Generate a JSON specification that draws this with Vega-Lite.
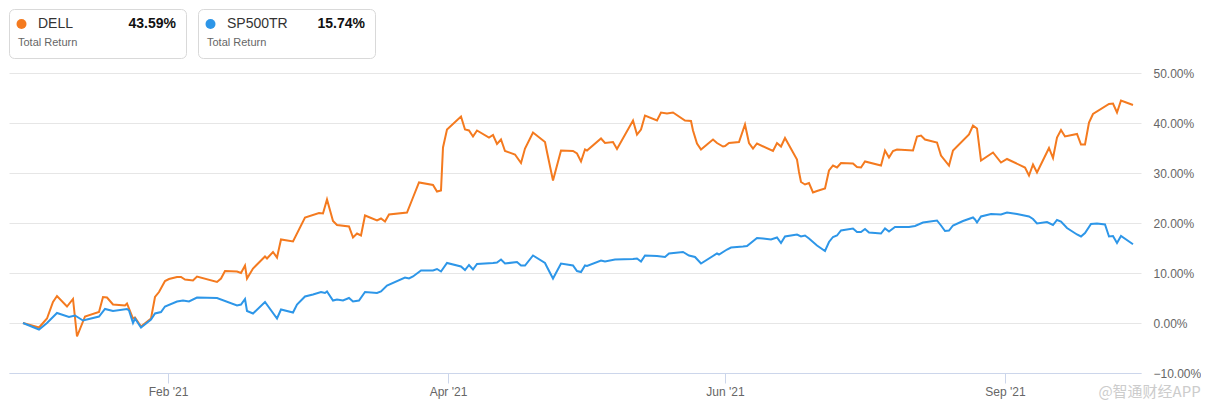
{
  "$schema": "https://vega.github.io/schema/vega-lite/v6.json",
  "padding": {"left": 8, "top": 8, "right": 0, "bottom": 0},
  "background": "white",
  "config": {"font": "Liberation Sans", "view": {"stroke": null}},
  "datasets": {
    "cards": [{"s": "DELL", "v": "43.59%"}, {"s": "SP500TR", "v": "15.74%"}],
    "lines": [
      {"s":"DELL","i":0,"r":0},{"s":"DELL","i":8,"r":-0.9},{"s":"DELL","i":12,"r":0.9},{"s":"DELL","i":15,"r":4.2},{"s":"DELL","i":17,"r":5.4},{"s":"DELL","i":22,"r":3.3},{"s":"DELL","i":25,"r":4.8},{"s":"DELL","i":27,"r":-2.7},{"s":"DELL","i":31,"r":1.3},{"s":"DELL","i":38,"r":2.2},{"s":"DELL","i":40,"r":5.2},{"s":"DELL","i":42,"r":5.1},{"s":"DELL","i":45,"r":3.7},{"s":"DELL","i":51,"r":3.5},{"s":"DELL","i":52,"r":3.9},{"s":"DELL","i":55,"r":0.9},{"s":"DELL","i":56,"r":1.1},{"s":"DELL","i":59,"r":-0.7},{"s":"DELL","i":64,"r":0.9},{"s":"DELL","i":66,"r":5.2},{"s":"DELL","i":68,"r":6.2},{"s":"DELL","i":71,"r":8.4},{"s":"DELL","i":73,"r":8.8},{"s":"DELL","i":77,"r":9.2},{"s":"DELL","i":79,"r":9.2},{"s":"DELL","i":81,"r":8.7},{"s":"DELL","i":85,"r":8.5},{"s":"DELL","i":87,"r":9.3},{"s":"DELL","i":97,"r":8.2},{"s":"DELL","i":99,"r":8.9},{"s":"DELL","i":101,"r":10.4},{"s":"DELL","i":107,"r":10.3},{"s":"DELL","i":109,"r":10.0},{"s":"DELL","i":111,"r":11.5},{"s":"DELL","i":112,"r":8.9},{"s":"DELL","i":115,"r":10.9},{"s":"DELL","i":121,"r":13.3},{"s":"DELL","i":122,"r":12.9},{"s":"DELL","i":125,"r":14.2},{"s":"DELL","i":127,"r":13.1},{"s":"DELL","i":129,"r":16.7},{"s":"DELL","i":135,"r":16.3},{"s":"DELL","i":141,"r":21.1},{"s":"DELL","i":148,"r":22.0},{"s":"DELL","i":150,"r":21.9},{"s":"DELL","i":152,"r":24.7},{"s":"DELL","i":155,"r":20.4},{"s":"DELL","i":157,"r":19.6},{"s":"DELL","i":163,"r":19.3},{"s":"DELL","i":165,"r":17.1},{"s":"DELL","i":167,"r":17.9},{"s":"DELL","i":169,"r":17.5},{"s":"DELL","i":171,"r":21.5},{"s":"DELL","i":177,"r":20.5},{"s":"DELL","i":179,"r":20.9},{"s":"DELL","i":181,"r":20.3},{"s":"DELL","i":183,"r":21.7},{"s":"DELL","i":192,"r":22.1},{"s":"DELL","i":195,"r":25.1},{"s":"DELL","i":198,"r":28.1},{"s":"DELL","i":205,"r":27.6},{"s":"DELL","i":207,"r":26.3},{"s":"DELL","i":209,"r":26.5},{"s":"DELL","i":210,"r":35.1},{"s":"DELL","i":212,"r":38.7},{"s":"DELL","i":219,"r":41.3},{"s":"DELL","i":221,"r":38.7},{"s":"DELL","i":223,"r":38.5},{"s":"DELL","i":225,"r":37.3},{"s":"DELL","i":227,"r":38.5},{"s":"DELL","i":233,"r":37.1},{"s":"DELL","i":235,"r":37.6},{"s":"DELL","i":237,"r":35.8},{"s":"DELL","i":239,"r":36.7},{"s":"DELL","i":241,"r":34.4},{"s":"DELL","i":246,"r":33.7},{"s":"DELL","i":249,"r":32.0},{"s":"DELL","i":251,"r":34.9},{"s":"DELL","i":255,"r":38.1},{"s":"DELL","i":261,"r":36.2},{"s":"DELL","i":262,"r":34.2},{"s":"DELL","i":265,"r":28.5},{"s":"DELL","i":269,"r":34.5},{"s":"DELL","i":275,"r":34.4},{"s":"DELL","i":277,"r":33.9},{"s":"DELL","i":279,"r":32.3},{"s":"DELL","i":281,"r":34.7},{"s":"DELL","i":282,"r":34.5},{"s":"DELL","i":289,"r":36.9},{"s":"DELL","i":291,"r":36.0},{"s":"DELL","i":295,"r":36.2},{"s":"DELL","i":297,"r":34.8},{"s":"DELL","i":305,"r":40.5},{"s":"DELL","i":307,"r":37.7},{"s":"DELL","i":309,"r":38.7},{"s":"DELL","i":311,"r":41.5},{"s":"DELL","i":317,"r":40.5},{"s":"DELL","i":319,"r":42.1},{"s":"DELL","i":322,"r":41.9},{"s":"DELL","i":325,"r":42.1},{"s":"DELL","i":331,"r":40.5},{"s":"DELL","i":334,"r":40.4},{"s":"DELL","i":335,"r":38.5},{"s":"DELL","i":337,"r":35.9},{"s":"DELL","i":339,"r":34.7},{"s":"DELL","i":345,"r":36.7},{"s":"DELL","i":347,"r":36.0},{"s":"DELL","i":350,"r":35.3},{"s":"DELL","i":351,"r":35.4},{"s":"DELL","i":353,"r":36.0},{"s":"DELL","i":358,"r":36.2},{"s":"DELL","i":361,"r":39.7},{"s":"DELL","i":363,"r":36.0},{"s":"DELL","i":365,"r":34.9},{"s":"DELL","i":367,"r":35.9},{"s":"DELL","i":375,"r":34.4},{"s":"DELL","i":377,"r":36.0},{"s":"DELL","i":379,"r":35.3},{"s":"DELL","i":381,"r":37.0},{"s":"DELL","i":387,"r":32.7},{"s":"DELL","i":388,"r":30.2},{"s":"DELL","i":389,"r":28.2},{"s":"DELL","i":391,"r":27.7},{"s":"DELL","i":393,"r":28.0},{"s":"DELL","i":395,"r":26.1},{"s":"DELL","i":397,"r":26.4},{"s":"DELL","i":401,"r":26.9},{"s":"DELL","i":403,"r":30.5},{"s":"DELL","i":405,"r":31.5},{"s":"DELL","i":407,"r":31.1},{"s":"DELL","i":409,"r":32.0},{"s":"DELL","i":415,"r":31.9},{"s":"DELL","i":417,"r":31.2},{"s":"DELL","i":419,"r":31.1},{"s":"DELL","i":421,"r":32.3},{"s":"DELL","i":429,"r":31.5},{"s":"DELL","i":431,"r":34.5},{"s":"DELL","i":433,"r":33.1},{"s":"DELL","i":435,"r":34.4},{"s":"DELL","i":437,"r":34.7},{"s":"DELL","i":445,"r":34.5},{"s":"DELL","i":447,"r":37.3},{"s":"DELL","i":449,"r":37.5},{"s":"DELL","i":451,"r":36.7},{"s":"DELL","i":457,"r":36.1},{"s":"DELL","i":459,"r":33.5},{"s":"DELL","i":463,"r":31.5},{"s":"DELL","i":465,"r":34.5},{"s":"DELL","i":473,"r":37.7},{"s":"DELL","i":475,"r":39.5},{"s":"DELL","i":477,"r":38.9},{"s":"DELL","i":479,"r":32.5},{"s":"DELL","i":485,"r":34.1},{"s":"DELL","i":489,"r":32.1},{"s":"DELL","i":492,"r":32.8},{"s":"DELL","i":501,"r":31.1},{"s":"DELL","i":503,"r":29.5},{"s":"DELL","i":505,"r":31.7},{"s":"DELL","i":507,"r":30.1},{"s":"DELL","i":513,"r":35.0},{"s":"DELL","i":515,"r":33.0},{"s":"DELL","i":517,"r":37.1},{"s":"DELL","i":519,"r":38.6},{"s":"DELL","i":521,"r":37.3},{"s":"DELL","i":527,"r":37.8},{"s":"DELL","i":529,"r":35.7},{"s":"DELL","i":531,"r":35.7},{"s":"DELL","i":533,"r":40.1},{"s":"DELL","i":535,"r":41.8},{"s":"DELL","i":543,"r":43.8},{"s":"DELL","i":545,"r":43.9},{"s":"DELL","i":547,"r":42.1},{"s":"DELL","i":549,"r":44.5},{"s":"DELL","i":555,"r":43.59},
      {"s":"SP500TR","i":0,"r":0},{"s":"SP500TR","i":8,"r":-1.3},{"s":"SP500TR","i":12,"r":0},{"s":"SP500TR","i":17,"r":2.0},{"s":"SP500TR","i":23,"r":1.2},{"s":"SP500TR","i":26,"r":1.5},{"s":"SP500TR","i":30,"r":0.5},{"s":"SP500TR","i":38,"r":1.3},{"s":"SP500TR","i":41,"r":2.8},{"s":"SP500TR","i":45,"r":2.4},{"s":"SP500TR","i":52,"r":2.8},{"s":"SP500TR","i":53,"r":2.5},{"s":"SP500TR","i":55,"r":0.0},{"s":"SP500TR","i":56,"r":0.9},{"s":"SP500TR","i":59,"r":-0.9},{"s":"SP500TR","i":64,"r":0.7},{"s":"SP500TR","i":66,"r":1.9},{"s":"SP500TR","i":69,"r":2.2},{"s":"SP500TR","i":71,"r":3.3},{"s":"SP500TR","i":77,"r":4.3},{"s":"SP500TR","i":80,"r":4.5},{"s":"SP500TR","i":83,"r":4.3},{"s":"SP500TR","i":87,"r":5.1},{"s":"SP500TR","i":97,"r":5.0},{"s":"SP500TR","i":107,"r":3.5},{"s":"SP500TR","i":109,"r":3.7},{"s":"SP500TR","i":111,"r":4.8},{"s":"SP500TR","i":112,"r":2.4},{"s":"SP500TR","i":115,"r":1.9},{"s":"SP500TR","i":121,"r":4.2},{"s":"SP500TR","i":127,"r":0.9},{"s":"SP500TR","i":129,"r":2.7},{"s":"SP500TR","i":135,"r":2.1},{"s":"SP500TR","i":137,"r":3.7},{"s":"SP500TR","i":141,"r":5.3},{"s":"SP500TR","i":145,"r":5.7},{"s":"SP500TR","i":149,"r":6.2},{"s":"SP500TR","i":151,"r":6.0},{"s":"SP500TR","i":152,"r":6.3},{"s":"SP500TR","i":155,"r":4.5},{"s":"SP500TR","i":157,"r":4.7},{"s":"SP500TR","i":160,"r":4.5},{"s":"SP500TR","i":163,"r":5.0},{"s":"SP500TR","i":165,"r":4.3},{"s":"SP500TR","i":168,"r":4.5},{"s":"SP500TR","i":171,"r":6.2},{"s":"SP500TR","i":177,"r":6.0},{"s":"SP500TR","i":179,"r":6.3},{"s":"SP500TR","i":182,"r":7.5},{"s":"SP500TR","i":191,"r":9.1},{"s":"SP500TR","i":193,"r":8.9},{"s":"SP500TR","i":195,"r":9.3},{"s":"SP500TR","i":199,"r":10.5},{"s":"SP500TR","i":205,"r":10.5},{"s":"SP500TR","i":207,"r":10.8},{"s":"SP500TR","i":209,"r":10.3},{"s":"SP500TR","i":212,"r":12.0},{"s":"SP500TR","i":219,"r":11.3},{"s":"SP500TR","i":221,"r":10.6},{"s":"SP500TR","i":223,"r":11.6},{"s":"SP500TR","i":225,"r":10.7},{"s":"SP500TR","i":227,"r":11.8},{"s":"SP500TR","i":235,"r":12.0},{"s":"SP500TR","i":237,"r":12.1},{"s":"SP500TR","i":239,"r":12.7},{"s":"SP500TR","i":241,"r":11.9},{"s":"SP500TR","i":247,"r":12.2},{"s":"SP500TR","i":249,"r":11.5},{"s":"SP500TR","i":251,"r":11.5},{"s":"SP500TR","i":255,"r":13.5},{"s":"SP500TR","i":261,"r":12.0},{"s":"SP500TR","i":262,"r":11.2},{"s":"SP500TR","i":265,"r":8.9},{"s":"SP500TR","i":269,"r":11.9},{"s":"SP500TR","i":275,"r":11.5},{"s":"SP500TR","i":277,"r":10.4},{"s":"SP500TR","i":279,"r":10.2},{"s":"SP500TR","i":281,"r":11.5},{"s":"SP500TR","i":282,"r":11.4},{"s":"SP500TR","i":289,"r":12.5},{"s":"SP500TR","i":291,"r":12.3},{"s":"SP500TR","i":296,"r":12.7},{"s":"SP500TR","i":305,"r":12.8},{"s":"SP500TR","i":307,"r":12.9},{"s":"SP500TR","i":309,"r":12.3},{"s":"SP500TR","i":311,"r":13.5},{"s":"SP500TR","i":317,"r":13.4},{"s":"SP500TR","i":321,"r":13.2},{"s":"SP500TR","i":323,"r":13.9},{"s":"SP500TR","i":330,"r":14.2},{"s":"SP500TR","i":333,"r":13.5},{"s":"SP500TR","i":336,"r":13.2},{"s":"SP500TR","i":339,"r":11.9},{"s":"SP500TR","i":347,"r":13.9},{"s":"SP500TR","i":348,"r":13.7},{"s":"SP500TR","i":352,"r":14.7},{"s":"SP500TR","i":354,"r":15.1},{"s":"SP500TR","i":360,"r":15.3},{"s":"SP500TR","i":362,"r":15.4},{"s":"SP500TR","i":367,"r":17.0},{"s":"SP500TR","i":370,"r":16.9},{"s":"SP500TR","i":374,"r":16.7},{"s":"SP500TR","i":377,"r":17.1},{"s":"SP500TR","i":379,"r":16.0},{"s":"SP500TR","i":381,"r":17.3},{"s":"SP500TR","i":387,"r":17.7},{"s":"SP500TR","i":389,"r":17.3},{"s":"SP500TR","i":391,"r":17.5},{"s":"SP500TR","i":393,"r":16.9},{"s":"SP500TR","i":397,"r":15.5},{"s":"SP500TR","i":401,"r":14.4},{"s":"SP500TR","i":403,"r":16.2},{"s":"SP500TR","i":405,"r":17.2},{"s":"SP500TR","i":407,"r":17.5},{"s":"SP500TR","i":409,"r":18.5},{"s":"SP500TR","i":415,"r":18.9},{"s":"SP500TR","i":417,"r":18.2},{"s":"SP500TR","i":419,"r":18.2},{"s":"SP500TR","i":421,"r":18.8},{"s":"SP500TR","i":423,"r":18.1},{"s":"SP500TR","i":429,"r":17.9},{"s":"SP500TR","i":431,"r":18.9},{"s":"SP500TR","i":433,"r":18.3},{"s":"SP500TR","i":436,"r":19.2},{"s":"SP500TR","i":443,"r":19.2},{"s":"SP500TR","i":446,"r":19.4},{"s":"SP500TR","i":450,"r":20.1},{"s":"SP500TR","i":457,"r":20.5},{"s":"SP500TR","i":459,"r":19.5},{"s":"SP500TR","i":461,"r":18.4},{"s":"SP500TR","i":463,"r":18.5},{"s":"SP500TR","i":465,"r":19.5},{"s":"SP500TR","i":470,"r":20.4},{"s":"SP500TR","i":475,"r":21.1},{"s":"SP500TR","i":476,"r":20.7},{"s":"SP500TR","i":477,"r":20.1},{"s":"SP500TR","i":479,"r":21.3},{"s":"SP500TR","i":484,"r":21.8},{"s":"SP500TR","i":489,"r":21.7},{"s":"SP500TR","i":492,"r":22.1},{"s":"SP500TR","i":497,"r":21.8},{"s":"SP500TR","i":503,"r":21.3},{"s":"SP500TR","i":505,"r":20.8},{"s":"SP500TR","i":507,"r":19.9},{"s":"SP500TR","i":512,"r":20.2},{"s":"SP500TR","i":515,"r":19.6},{"s":"SP500TR","i":517,"r":20.6},{"s":"SP500TR","i":519,"r":20.3},{"s":"SP500TR","i":522,"r":19.0},{"s":"SP500TR","i":527,"r":17.7},{"s":"SP500TR","i":529,"r":17.3},{"s":"SP500TR","i":531,"r":18.0},{"s":"SP500TR","i":534,"r":19.8},{"s":"SP500TR","i":537,"r":19.9},{"s":"SP500TR","i":541,"r":19.7},{"s":"SP500TR","i":543,"r":17.3},{"s":"SP500TR","i":545,"r":17.4},{"s":"SP500TR","i":547,"r":16.0},{"s":"SP500TR","i":549,"r":17.4},{"s":"SP500TR","i":555,"r":15.74}
    ]
  },
  "vconcat": [
    {
      "data": {"name": "cards"},
      "facet": {"column": {"field": "s", "header": null, "sort": ["DELL", "SP500TR"]}},
      "spacing": 10,
      "spec": {
        "width": 177,
        "height": 49,
        "view": {"stroke": "#d9d9d9", "strokeWidth": 1, "cornerRadius": 5, "fill": "white"},
        "layer": [
          {
            "mark": {"type": "point", "filled": true, "size": 100, "opacity": 1},
            "encoding": {
              "x": {"value": 12.5},
              "y": {"value": 15},
              "color": {"field": "s", "type": "nominal", "scale": {"domain": ["DELL", "SP500TR"], "range": ["#f47a1f", "#2d96e8"]}, "legend": null}
            }
          },
          {
            "mark": {"type": "text", "fontSize": 14, "color": "#333333", "align": "left", "baseline": "middle"},
            "encoding": {"x": {"value": 29}, "y": {"value": 15}, "text": {"field": "s"}}
          },
          {
            "mark": {"type": "text", "fontSize": 14, "fontWeight": "bold", "color": "#111111", "align": "right", "baseline": "middle"},
            "encoding": {"x": {"value": 167}, "y": {"value": 15}, "text": {"field": "v"}}
          },
          {
            "mark": {"type": "text", "fontSize": 11, "color": "#666666", "align": "left", "baseline": "middle", "text": "Total Return"},
            "encoding": {"x": {"value": 9}, "y": {"value": 34}}
          }
        ]
      }
    },
    {
      "width": 1132,
      "height": 300,
      "title": {"text": "@智通财经APP", "orient": "bottom", "anchor": "end", "font": "Noto Sans CJK SC", "fontSize": 15, "fontWeight": "normal", "color": "#cccccc", "offset": -12},
      "data": {"name": "lines"},
      "mark": {"type": "line", "strokeWidth": 2, "interpolate": "linear"},
      "encoding": {
        "x": {
          "field": "i", "type": "quantitative",
          "scale": {"domain": [-7, 559], "nice": false, "zero": false},
          "axis": {
            "title": null, "grid": false, "values": [72.5, 212.5, 351, 491],
            "labelExpr": "datum.value < 100 ? \"Feb '21\" : datum.value < 300 ? \"Apr '21\" : datum.value < 400 ? \"Jun '21\" : \"Sep '21\"",
            "domainColor": "#ccd6eb", "tickColor": "#ccd6eb", "tickSize": 10,
            "labelColor": "#666666", "labelFontSize": 12, "labelPadding": 3
          }
        },
        "y": {
          "field": "r", "type": "quantitative",
          "scale": {"domain": [-10, 50], "nice": false, "zero": false},
          "axis": {
            "orient": "right", "title": null, "values": [-10, 0, 10, 20, 30, 40, 50],
            "labelExpr": "format(datum.value, '.2f') + '%'",
            "grid": true, "gridColor": "#e6e6e6", "domain": false, "ticks": false,
            "labelColor": "#666666", "labelFontSize": 12, "labelPadding": 12
          }
        },
        "color": {"field": "s", "type": "nominal", "scale": {"domain": ["DELL", "SP500TR"], "range": ["#f47a1f", "#2d96e8"]}, "legend": null}
      }
    }
  ],
  "spacing": 8,
  "bounds": "full"
}
